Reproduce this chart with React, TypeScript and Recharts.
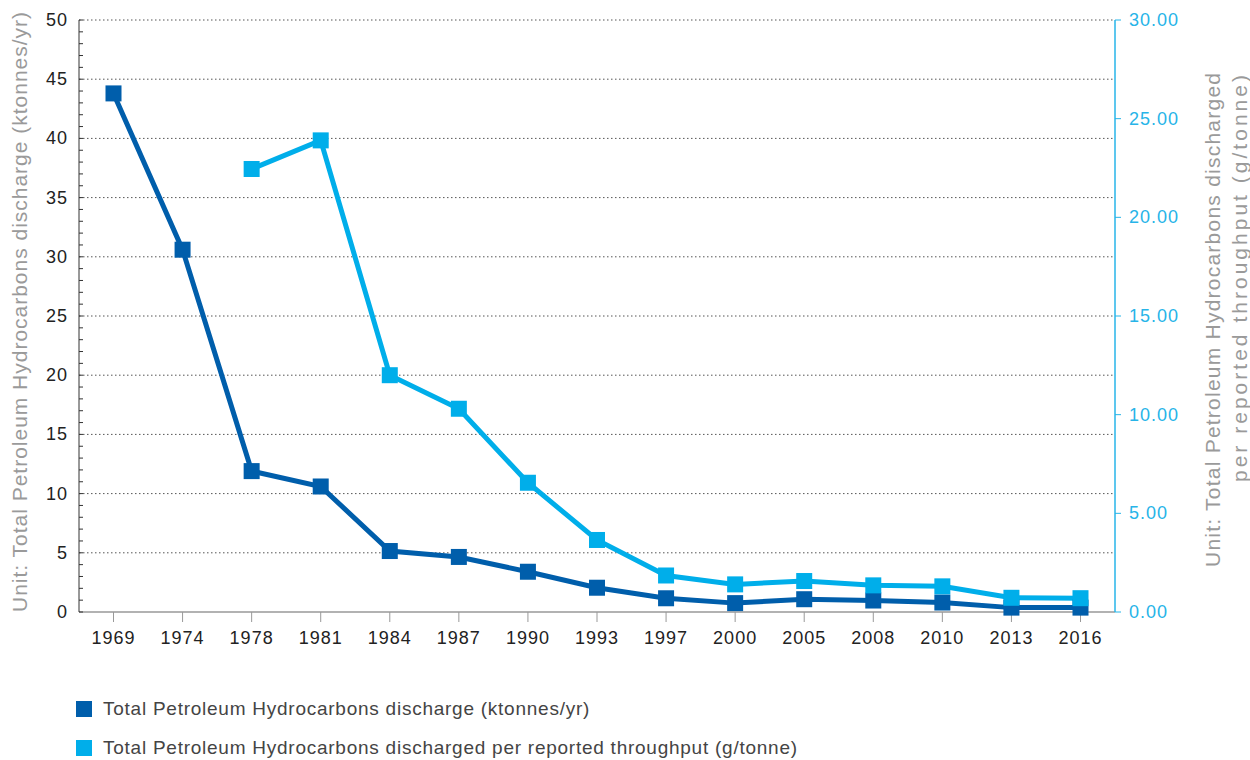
import React from 'react';
import { ComposedChart, Line, XAxis, YAxis, ReferenceLine, Legend } from 'recharts';

const years = ['1969', '1974', '1978', '1981', '1984', '1987', '1990', '1993', '1997', '2000', '2005', '2008', '2010', '2013', '2016'];
const discharge = [43.8, 30.6, 11.9, 10.6, 5.15, 4.65, 3.4, 2.05, 1.16, 0.75, 1.08, 0.97, 0.8, 0.37, 0.37];
const perThroughput: (number | null)[] = [null, null, 22.45, 23.9, 12.0, 10.3, 6.55, 3.65, 1.85, 1.4, 1.57, 1.35, 1.3, 0.72, 0.7];
const leftTicks = Array.from({ length: 51 }, (_, i) => i);
const gridValues = [5, 10, 15, 20, 25, 30, 35, 40, 45, 50];
const rightTicks = [0, 5, 10, 15, 20, 25, 30];

const DARK = '#005EAB';
const LIGHT = '#00AEEA';
const AXIS_CYAN = '#27B4E8';
const FONT = '"Liberation Sans", Arial, sans-serif';

const data = years.map((y, i) => ({ year: y, discharge: discharge[i], perThroughput: perThroughput[i] }));

const squareDot = (color: string) => (props: any) => {
  const { cx, cy, value, index } = props;
  if (value == null || cx == null || cy == null) return <g key={`e${index}`} />;
  return <rect key={`d${index}`} x={cx - 8} y={cy - 8} width={16} height={16} fill={color} />;
};

const LeftTick = (props: any) => {
  const { x, y, payload } = props;
  const major = payload.value % 5 === 0;
  return (
    <g>
      <line x1={x} x2={x + 4} y1={y} y2={y} stroke="#333" strokeWidth={1} />
      {major && (
        <text x={x - 11} y={y} dy={6} textAnchor="end" fill="#222" fontSize={18} letterSpacing={1} fontFamily={FONT}>
          {payload.value}
        </text>
      )}
    </g>
  );
};

const RightTick = (props: any) => {
  const { x, y, payload } = props;
  return (
    <g>
      <line x1={x} x2={x + 6} y1={y} y2={y} stroke={AXIS_CYAN} strokeWidth={1} />
      <text x={x + 14} y={y} dy={6} textAnchor="start" fill={AXIS_CYAN} fontSize={18} letterSpacing={1} fontFamily={FONT}>
        {Number(payload.value).toFixed(2)}
      </text>
    </g>
  );
};

const XTick = (props: any) => {
  const { x, y, payload } = props;
  return (
    <text x={x} y={y} dy={20} textAnchor="middle" fill="#222" fontSize={18} letterSpacing={1} fontFamily={FONT}>
      {payload.value}
    </text>
  );
};

const renderLegend = (props: any) => {
  const { payload } = props;
  return (
    <div style={{ fontFamily: FONT }}>
      {(payload || []).map((entry: any, i: number) => (
        <div key={i} style={{ display: 'flex', alignItems: 'center', height: 39 }}>
          <div style={{ width: 16, height: 16, background: entry.color, marginRight: 11 }} />
          <span style={{ fontSize: 19, color: '#444', letterSpacing: 0.75 }}>{entry.value}</span>
        </div>
      ))}
    </div>
  );
};

const LeftTitle = () => {
  const cy = 312;
  return (
    <text
      x={27}
      y={cy}
      transform={`rotate(-90 27 ${cy})`}
      textAnchor="middle"
      fill="#9A9A9A"
      fontSize={21}
      fontFamily={FONT}
      textLength={600}
      lengthAdjust="spacing"
    >
      Unit: Total Petroleum Hydrocarbons discharge (ktonnes/yr)
    </text>
  );
};

const RightTitle = () => {
  return (
    <g>
      <text
        x={1220}
        y={567}
        transform="rotate(-90 1220 567)"
        textAnchor="start"
        fill="#9A9A9A"
        fontSize={21}
        fontFamily={FONT}
        textLength={494}
        lengthAdjust="spacing"
      >
        Unit: Total Petroleum Hydrocarbons discharged
      </text>
      <text
        x={1247}
        y={482}
        transform="rotate(-90 1247 482)"
        textAnchor="start"
        fill="#9A9A9A"
        fontSize={21}
        fontFamily={FONT}
        textLength={407}
        lengthAdjust="spacing"
      >
        per reported throughput (g/tonne)
      </text>
    </g>
  );
};

export default function App() {
  return (
    <div style={{ position: 'absolute', left: 0, top: 0, width: 1250, height: 760, background: '#fff' }}>
      <ComposedChart width={1250} height={760} data={data} margin={{ top: 20, right: 0, left: 0, bottom: 118 }}>
        {gridValues.map((v) => (
          <ReferenceLine key={v} yAxisId="left" y={v} stroke="#555" strokeDasharray="1.5 2.5" strokeWidth={1} />
        ))}
        <XAxis
          dataKey="year"
          height={30}
          stroke="#999"
          tickSize={10}
          tickLine={{ stroke: '#999' }}
          axisLine={{ stroke: '#999', strokeWidth: 1.5 }}
          tick={<XTick />}
          interval={0}
          padding={{ left: 34.5, right: 34.5 }}
        />
        <YAxis
          yAxisId="left"
          orientation="left"
          width={79}
          domain={[0, 50]}
          ticks={leftTicks}
          interval={0}
          tickSize={0}
          tickMargin={0}
          tickLine={false}
          axisLine={{ stroke: '#333', strokeWidth: 1 }}
          tick={<LeftTick />}
          label={<LeftTitle />}
        />
        <YAxis
          yAxisId="right"
          orientation="right"
          width={135}
          domain={[0, 30]}
          ticks={rightTicks}
          interval={0}
          tickSize={0}
          tickMargin={0}
          tickLine={false}
          axisLine={{ stroke: AXIS_CYAN, strokeWidth: 1.5 }}
          tick={<RightTick />}
          label={<RightTitle />}
        />
        <Line
          yAxisId="left"
          type="linear"
          dataKey="discharge"
          name="Total Petroleum Hydrocarbons discharge (ktonnes/yr)"
          stroke={DARK}
          strokeWidth={5}
          dot={squareDot(DARK)}
          activeDot={false}
          isAnimationActive={false}
        />
        <Line
          yAxisId="right"
          type="linear"
          dataKey="perThroughput"
          name="Total Petroleum Hydrocarbons discharged per reported throughput (g/tonne)"
          stroke={LIGHT}
          strokeWidth={5}
          dot={squareDot(LIGHT)}
          activeDot={false}
          isAnimationActive={false}
        />
        <Legend
          layout="vertical"
          align="center"
          verticalAlign="middle"
          content={renderLegend}
          wrapperStyle={{ position: 'absolute', left: 76, top: 689, width: 900 }}
        />
      </ComposedChart>
    </div>
  );
}
